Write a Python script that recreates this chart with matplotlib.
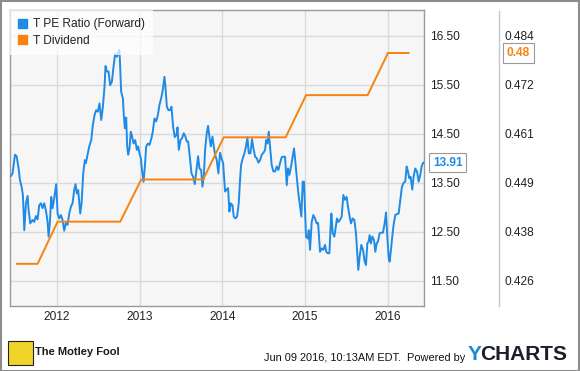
import matplotlib
matplotlib.use('Agg')
import matplotlib.pyplot as plt
import matplotlib.patches as mpatches
from matplotlib.lines import Line2D

plt.rcParams['font.family'] = ['Liberation Sans', 'DejaVu Sans']

# T PE Ratio (Forward), decimal years
pe_years = [
    2011.441, 2011.461, 2011.490, 2011.510, 2011.534, 2011.550, 2011.570, 2011.586, 2011.603, 2011.623,
    2011.643, 2011.655, 2011.675, 2011.703, 2011.723, 2011.744, 2011.764, 2011.784, 2011.804, 2011.824,
    2011.844, 2011.864, 2011.885, 2011.897, 2011.913, 2011.929, 2011.945, 2011.965, 2011.989, 2012.006,
    2012.026, 2012.046, 2012.066, 2012.086, 2012.106, 2012.127, 2012.147, 2012.167, 2012.187, 2012.207,
    2012.223, 2012.239, 2012.255, 2012.280, 2012.296, 2012.316, 2012.336, 2012.348, 2012.368, 2012.389,
    2012.413, 2012.433, 2012.453, 2012.473, 2012.493, 2012.513, 2012.534, 2012.554, 2012.574, 2012.586,
    2012.602, 2012.622, 2012.642, 2012.663, 2012.683, 2012.703, 2012.723, 2012.735, 2012.751, 2012.759,
    2012.775, 2012.796, 2012.808, 2012.820, 2012.836, 2012.848, 2012.860, 2012.876, 2012.892, 2012.908,
    2012.925, 2012.945, 2012.965, 2012.981, 2012.997, 2013.013, 2013.029, 2013.046, 2013.062, 2013.078,
    2013.098, 2013.118, 2013.142, 2013.158, 2013.178, 2013.199, 2013.219, 2013.239, 2013.259, 2013.279,
    2013.299, 2013.311, 2013.328, 2013.348, 2013.368, 2013.384, 2013.404, 2013.424, 2013.444, 2013.457,
    2013.473, 2013.493, 2013.513, 2013.533, 2013.553, 2013.569, 2013.586, 2013.606, 2013.626, 2013.646,
    2013.666, 2013.686, 2013.706, 2013.723, 2013.743, 2013.759, 2013.775, 2013.791, 2013.811, 2013.827,
    2013.843, 2013.860, 2013.880, 2013.896, 2013.912, 2013.932, 2013.952, 2013.972, 2013.989, 2014.009,
    2014.021, 2014.033, 2014.049, 2014.069, 2014.085, 2014.101, 2014.122, 2014.138, 2014.158, 2014.178,
    2014.198, 2014.214, 2014.226, 2014.247, 2014.267, 2014.287, 2014.303, 2014.319, 2014.339, 2014.359,
    2014.376, 2014.396, 2014.416, 2014.436, 2014.456, 2014.476, 2014.497, 2014.517, 2014.529, 2014.545,
    2014.561, 2014.577, 2014.597, 2014.617, 2014.638, 2014.658, 2014.678, 2014.698, 2014.718, 2014.738,
    2014.759, 2014.779, 2014.795, 2014.811, 2014.831, 2014.851, 2014.867, 2014.883, 2014.900, 2014.920,
    2014.940, 2014.956, 2014.972, 2014.988, 2015.000, 2015.012, 2015.033, 2015.045, 2015.061, 2015.081,
    2015.101, 2015.121, 2015.141, 2015.158, 2015.170, 2015.182, 2015.202, 2015.222, 2015.242, 2015.258,
    2015.274, 2015.295, 2015.311, 2015.319, 2015.335, 2015.355, 2015.387, 2015.403, 2015.423, 2015.444,
    2015.464, 2015.484, 2015.504, 2015.520, 2015.540, 2015.556, 2015.577, 2015.597, 2015.617, 2015.633,
    2015.645, 2015.661, 2015.681, 2015.702, 2015.722, 2015.738, 2015.754, 2015.770, 2015.782, 2015.798,
    2015.814, 2015.835, 2015.851, 2015.867, 2015.883, 2015.903, 2015.923, 2015.943, 2015.964, 2015.980,
    2015.996, 2016.012, 2016.024, 2016.040, 2016.056, 2016.072, 2016.093, 2016.113, 2016.133, 2016.153,
    2016.173, 2016.193, 2016.213, 2016.230, 2016.246, 2016.262, 2016.278, 2016.298, 2016.314, 2016.334,
    2016.355, 2016.375, 2016.395, 2016.411, 2016.427, 2016.437,
]
pe_values = [
    13.64, 13.69, 14.07, 14.04, 13.79, 13.56, 13.42, 13.25, 12.53, 13.08,
    13.23, 12.94, 12.67, 12.74, 12.70, 12.82, 12.75, 13.04, 13.08, 12.98,
    13.08, 12.94, 12.70, 12.40, 12.70, 13.21, 12.98, 13.18, 13.47, 12.87,
    12.77, 12.84, 12.74, 12.52, 12.68, 12.64, 12.87, 13.01, 13.08, 13.35,
    13.47, 13.28, 13.35, 12.87, 13.08, 13.69, 13.96, 13.90, 14.07, 14.24,
    14.37, 14.68, 14.88, 14.98, 14.95, 15.12, 14.78, 15.05, 15.46, 15.88,
    15.77, 15.77, 15.49, 15.56, 15.87, 16.13, 16.07, 16.13, 16.21, 16.04,
    15.36, 15.22, 14.85, 14.61, 14.83, 14.24, 14.07, 14.20, 14.54, 14.44,
    14.30, 14.37, 14.17, 14.24, 14.10, 14.00, 13.73, 13.52, 13.83, 14.24,
    14.30, 14.27, 14.41, 14.54, 14.81, 14.75, 14.88, 15.09, 15.22, 15.39,
    15.66, 15.46, 15.05, 14.98, 14.98, 15.05, 14.64, 14.43, 14.47, 14.63,
    14.17, 14.37, 14.41, 14.51, 14.44, 14.34, 14.34, 14.03, 13.69, 13.62,
    13.47, 13.76, 14.04, 13.79, 13.76, 13.42, 13.62, 14.17, 14.51, 14.66,
    14.44, 14.24, 14.44, 14.24, 14.07, 13.96, 13.69, 14.11, 14.00, 13.90,
    13.62, 13.32, 13.35, 13.39, 12.91, 13.08, 13.04, 12.81, 12.77, 12.81,
    13.08, 13.56, 13.86, 14.00, 14.10, 14.25, 14.43, 14.10, 14.10, 14.39,
    14.20, 14.03, 14.00, 13.91, 13.96, 14.07, 14.11, 14.17, 14.37, 14.30,
    14.54, 14.24, 13.86, 13.73, 13.73, 13.83, 13.76, 13.90, 14.02, 14.03,
    14.03, 13.45, 13.79, 13.66, 13.83, 14.03, 14.20, 13.93, 13.62, 13.28,
    13.01, 12.81, 13.52, 13.52, 12.94, 12.40, 12.36, 12.53, 12.13, 12.70,
    12.84, 12.77, 12.67, 12.68, 12.40, 12.09, 12.16, 12.13, 12.23, 12.09,
    12.06, 12.06, 12.64, 12.87, 12.47, 12.40, 12.77, 12.70, 12.74, 12.81,
    13.25, 13.15, 13.21, 13.01, 12.81, 12.67, 12.77, 12.74, 12.47, 12.06,
    11.72, 11.99, 12.23, 12.13, 11.89, 11.82, 12.26, 12.30, 12.43, 12.26,
    12.40, 12.33, 12.09, 12.26, 12.30, 12.47, 12.48, 12.48, 12.67, 12.89,
    12.40, 11.99, 11.89, 12.13, 12.40, 12.64, 12.84, 12.86, 12.87, 13.15,
    13.42, 13.50, 13.52, 13.83, 13.73, 13.59, 13.62, 13.36, 13.62, 13.79,
    13.73, 13.52, 13.66, 13.83, 13.90, 13.91,
]

# T Dividend (quarterly, USD), breakpoints
div_years = [2011.513, 2011.764, 2012.006, 2012.764, 2013.018, 2013.767,
             2014.016, 2014.766, 2015.013, 2015.758, 2016.004, 2016.253]
div_values = [0.43, 0.43, 0.44, 0.44, 0.45, 0.45,
              0.46, 0.46, 0.47, 0.47, 0.48, 0.48]

year_ticks = [2012, 2013, 2014, 2015, 2016]
pe_ticks = [11.5, 12.5, 13.5, 14.5, 15.5, 16.5]
div_ticks = [0.4260, 0.43762, 0.44924, 0.46086, 0.47248, 0.4841]

BLUE = '#1f8be6'
ORANGE = '#f8820f'
GRID = '#dadada'
FS = 8.6

W, H = 580, 371
fig = plt.figure(figsize=(W / 100, H / 100), dpi=100)
ax = fig.add_axes([10 / W, 1 - 306 / H, 414 / W, 296 / H])
ax.set_facecolor('#f6f6f6')

ax.plot(pe_years, pe_values, color=BLUE, lw=1.4, zorder=3)

ax.set_xlim(2011.43, 2016.44)
ax.set_ylim(10.984, 17.024)
ax.set_xticks(year_ticks)
ax.set_xticklabels([str(y) for y in year_ticks])
ax.set_yticks(pe_ticks)
ax.set_yticklabels(['%.2f' % v for v in pe_ticks])
ax.grid(True, color=GRID, lw=1)
ax.set_axisbelow(True)
for s in ax.spines.values():
    s.set_color('#9a9a9a')
    s.set_linewidth(1)

# dividend on its own scale, aligned to the PE grid
ax2 = ax.twinx()
ax2.plot(div_years, div_values, color=ORANGE, lw=1.4, zorder=2)
ax2.set_ylim(0.4260 + (10.984 - 11.5) * 0.01162, 0.4260 + (17.024 - 11.5) * 0.01162)
ax2.set_yticks(div_ticks)
ax2.set_yticklabels(['%.3f' % v for v in div_ticks])
ax2.tick_params(axis='y', length=0, labelsize=FS, colors='#222222', pad=58)
for s in ax2.spines.values():
    s.set_visible(False)

# PE labels sit right of the plot as well
ax.yaxis.tick_right()
ax.tick_params(axis='both', length=0, labelsize=FS, colors='#222222')
ax.tick_params(axis='y', pad=4.5, left=False, labelleft=False, right=False, labelright=True)
ax.tick_params(axis='x', pad=3.5)

# last value tags
ax.annotate('%.2f' % pe_values[-1], xy=(1.0, pe_values[-1]), xycoords=('axes fraction', 'data'),
            xytext=(6.5, 0), textcoords='offset points', ha='left', va='center',
            fontsize=FS, fontweight='bold', color=BLUE, annotation_clip=False, zorder=5,
            bbox=dict(boxstyle='square,pad=0.32', fc='white', ec='#9a9a9a', lw=0.8))
ax2.annotate('%.2f' % div_values[-1], xy=(1.0, div_values[-1]), xycoords=('axes fraction', 'data'),
             xytext=(59.5, 0), textcoords='offset points', ha='left', va='center',
             fontsize=FS, fontweight='bold', color=ORANGE, annotation_clip=False,
             bbox=dict(boxstyle='square,pad=0.32', fc='white', ec='#9a9a9a', lw=0.8))

legend_elements = [
    mpatches.Patch(color=BLUE, label='T PE Ratio (Forward)'),
    mpatches.Patch(color=ORANGE, label='T Dividend'),
]
leg = ax2.legend(handles=legend_elements, loc='upper left', borderaxespad=0, fontsize=FS,
                 frameon=True, fancybox=False, framealpha=0.7, facecolor='white', edgecolor='none',
                 handlelength=0.75, handleheight=0.75, handletextpad=0.45, labelspacing=0.35,
                 borderpad=0.7)
leg.get_frame().set_linewidth(0)
for t in leg.get_texts():
    t.set_color('#222222')

# separator between the two value columns
fig.add_artist(Line2D([499 / W, 499 / W], [1 - 11 / H, 1 - 306 / H], color='#c8c8c8', lw=1))

# outer frame
fig.add_artist(mpatches.Rectangle((0.5 / W, 0.5 / H), 1 - 1.5 / W, 1 - 1.5 / H, transform=fig.transFigure,
                                  fill=False, ec='#8c8c8c', lw=1.5))

# footer
fig.add_artist(mpatches.Rectangle((8 / W, 1 - 365 / H), 25 / W, 24 / H, transform=fig.transFigure,
                                  fc='#f2d32a', ec='#222222', lw=0.8))
fig.text(35 / W, 1 - 352 / H, 'The Motley Fool', fontsize=8, fontweight='bold', color='#1a1a1a',
         ha='left', va='center')
fig.text(465 / W, 1 - 358 / H, 'Jun 09 2016, 10:13AM EDT.  Powered by', fontsize=7.9, color='#111111',
         ha='right', va='center')
fig.text(468 / W, 1 - 355 / H, 'Y', fontsize=15, fontweight='bold', color='#1a8ad4', ha='left', va='center')
fig.text(480.5 / W, 1 - 355 / H, 'CHARTS', fontsize=15, fontweight='bold', color='#1b1f2a', ha='left', va='center')

fig.savefig('out.png', dpi=100)
